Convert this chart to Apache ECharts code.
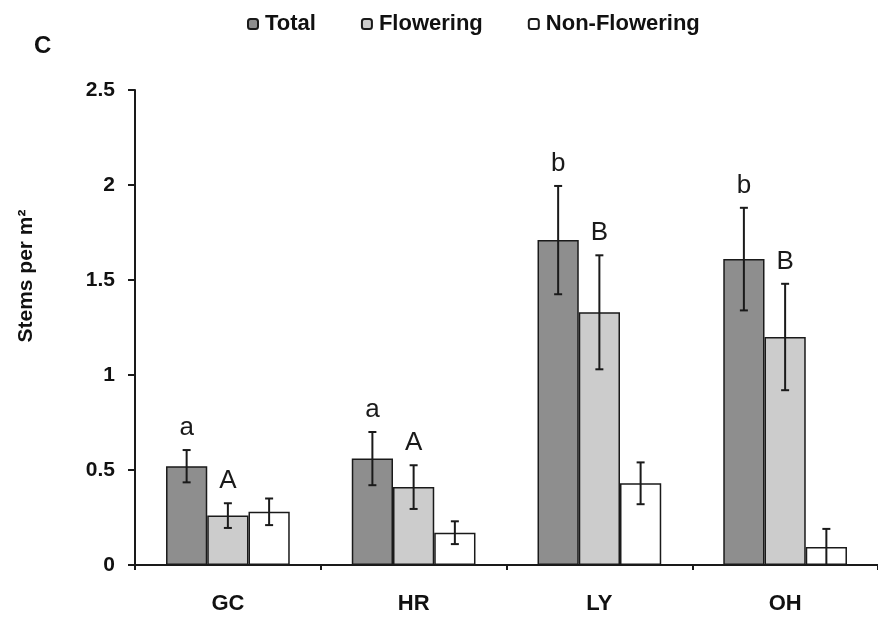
<!DOCTYPE html>
<html>
<head>
<meta charset="utf-8">
<script src="https://cdn.jsdelivr.net/npm/echarts@6/dist/echarts.min.js"></script>
<style>
html,body{margin:0;padding:0;background:#fff;}
#chart{width:878px;height:623px;}
</style>
</head>
<body>
<div id="chart"></div>
<script>
const categories = ['GC', 'HR', 'LY', 'OH'];
const seriesNames = ['Total', 'Flowering', 'Non-Flowering'];
const totalValues = [0.52, 0.56, 1.71, 1.61];
const totalErrors = [0.085, 0.14, 0.285, 0.27];
const floweringValues = [0.26, 0.41, 1.33, 1.20];
const floweringErrors = [0.065, 0.115, 0.30, 0.28];
const nonFloweringValues = [0.28, 0.17, 0.43, 0.095];
const nonFloweringErrors = [0.07, 0.06, 0.11, 0.095];
const totalLetters = ['a', 'a', 'b', 'b'];
const floweringLetters = ['A', 'A', 'B', 'B'];
const yTicks = [0, 0.5, 1, 1.5, 2, 2.5];

const FONT = '"Liberation Sans", Arial, sans-serif';
const values = [totalValues, floweringValues, nonFloweringValues];
const errors = [totalErrors, floweringErrors, nonFloweringErrors];
const letters = [totalLetters, floweringLetters, null];
const colors = ['#8e8e8e', '#cccccc', '#ffffff'];
const BAR_FRAC = 0.222;

const errData = [];
for (let s = 0; s < 3; s++) {
  for (let i = 0; i < categories.length; i++) {
    errData.push([i, values[s][i], errors[s][i], s, letters[s] ? letters[s][i] : '']);
  }
}

const chart = echarts.init(document.getElementById('chart'), null, {renderer: 'canvas'});
const barSeries = seriesNames.map((name, s) => ({
  name: name,
  type: 'bar',
  data: values[s],
  barWidth: (BAR_FRAC * 100) + '%',
  barGap: '0%',
  itemStyle: {color: colors[s], borderColor: '#1a1a1a', borderWidth: 1.5},
  emphasis: {disabled: true},
  silent: true
}));

chart.setOption({
  animation: false,
  backgroundColor: '#ffffff',
  graphic: [{
    type: 'text', left: 34, top: 34,
    style: {text: 'C', font: 'bold 24px ' + FONT, fill: '#111'}
  }, {
    type: 'text', x: 26, y: 276, rotation: Math.PI / 2,
    style: {text: 'Stems per m²', font: 'bold 21px ' + FONT, fill: '#111', align: 'center', verticalAlign: 'middle'}
  }],
  legend: {
    data: seriesNames.map(n => ({name: n, icon: 'roundRect'})),
    left: 242, top: 8,
    itemWidth: 10, itemHeight: 10, itemGap: 45,
    textStyle: {fontFamily: FONT, fontWeight: 'bold', fontSize: 22, color: '#111', padding: [0, 0, 0, 2]},
    selectedMode: false
  },
  grid: {left: 135, top: 90, bottom: 58, width: 748, containLabel: false},
  xAxis: {
    type: 'category',
    data: categories,
    axisLine: {lineStyle: {color: '#1a1a1a', width: 2}},
    axisTick: {show: true, length: 5, inside: false, lineStyle: {color: '#1a1a1a', width: 2}},
    axisLabel: {fontFamily: FONT, fontWeight: 'bold', fontSize: 22, color: '#111', margin: 28}
  },
  yAxis: {
    type: 'value',
    min: 0, max: 2.5, interval: 0.5,
    axisLine: {show: true, lineStyle: {color: '#1a1a1a', width: 2}},
    axisTick: {show: true, length: 7, lineStyle: {color: '#1a1a1a', width: 2}},
    splitLine: {show: false},
    axisLabel: {
      fontFamily: FONT, fontWeight: 'bold', fontSize: 21, color: '#111', margin: 20,
      formatter: v => (yTicks.indexOf(v) >= 0 ? String(v) : '')
    }
  },
  series: barSeries.concat([{
    type: 'custom',
    silent: true,
    data: errData,
    z: 10,
    renderItem: function (params, api) {
      const i = api.value(0), v = api.value(1), e = api.value(2), s = api.value(3);
      const bw = api.size([1, 0])[0] * BAR_FRAC;
      const center = api.coord([i, 0])[0] + (s - 1) * bw;
      const top = api.coord([i, v + e])[1];
      const bot = api.coord([i, Math.max(0, v - e)])[1];
      const cap = 4;
      const ls = {stroke: '#1a1a1a', lineWidth: 2};
      const children = [
        {type: 'line', shape: {x1: center, y1: top, x2: center, y2: bot}, style: ls},
        {type: 'line', shape: {x1: center - cap, y1: top, x2: center + cap, y2: top}, style: ls},
        {type: 'line', shape: {x1: center - cap, y1: bot, x2: center + cap, y2: bot}, style: ls}
      ];
      const letter = errData[params.dataIndex][4];
      if (letter) {
        children.push({
          type: 'text',
          style: {text: letter, x: center, y: top - 9, align: 'center', verticalAlign: 'bottom',
                  font: '26px ' + FONT, fill: '#1a1a1a'}
        });
      }
      return {type: 'group', children: children};
    }
  }])
});
</script>
</body>
</html>
